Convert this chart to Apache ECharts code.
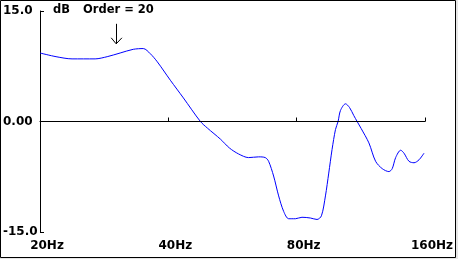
<!DOCTYPE html>
<html>
<head>
<meta charset="utf-8">
<script src="https://cdn.jsdelivr.net/npm/echarts@6/dist/echarts.min.js"></script>
<style>
html,body{margin:0;padding:0;background:#e6e6e6;}
#c{width:458px;height:259px;}
</style>
</head>
<body>
<div id="c"></div>
<script>
// Frequencies (Hz) and response (dB)
var freqs = [20.00, 21.81, 23.78, 26.94, 28.75, 30.84, 33.10, 34.94, 36.29, 37.69,
  40.44, 43.39, 47.57, 49.41, 53.01, 55.65, 58.43, 61.69, 65.13, 67.53,
  68.75, 70.63, 72.58, 74.57, 76.62, 79.44, 82.33, 86.16, 89.30, 91.45,
  93.45, 95.14, 96.85, 98.65, 100.05, 101.36, 104.15, 106.43, 108.93, 110.90,
  113.33, 118.16, 122.52, 126.99, 131.67, 134.04, 136.54, 140.29, 142.82, 146.74,
  150.78, 154.91, 159.14];
var gainDb = [9.3, 8.8, 8.5, 8.5, 8.8, 9.3, 9.8, 9.9, 9.2, 8.1,
  5.6, 3.2, 0.0, -0.9, -2.4, -3.6, -4.4, -4.9, -4.8, -4.9,
  -5.4, -7.4, -10.1, -12.2, -13.2, -13.2, -13.0, -13.1, -13.3, -12.8,
  -10.1, -7.0, -3.8, -1.1, 0.0, 1.5, 2.4, 1.9, 0.8, 0.0,
  -0.95, -2.9, -5.4, -6.4, -6.8, -6.4, -4.9, -3.9, -4.3, -5.4,
  -5.6, -5.2, -4.3];
var xTicks = [20, 40, 80, 160];
var yTicks = [-15, 0, 15];
var yTickLabels = ['-15.0', '0.00', '15.0'];
var titleUnit = 'dB';
var titleOrder = 'Order = 20';
// Arrow annotation (Hz, dB)
var arrowFreq = 30.18;
var arrowTopDb = 13.26;
var arrowTipDb = 10.54;
var arrowHeadDb = 11.36;
var arrowHeadLeftFreq = 29.38;
var arrowHeadRightFreq = 31.13;

var FONT = 'DejaVu Sans';
var chart = echarts.init(document.getElementById('c'), null, {renderer: 'canvas'});
var seriesData = freqs.map(function (f, i) { return [f, gainDb[i]]; });

chart.setOption({
  animation: false,
  backgroundColor: 'transparent',
  graphic: [
    {type: 'rect', z: -10, shape: {x: 0.5, y: 0.5, width: 455, height: 257},
     style: {fill: '#ffffff', stroke: '#000000', lineWidth: 1}},
    {type: 'text', x: 53, y: 10.5, style: {text: titleUnit, font: 'bold 11.5px "' + FONT + '"', fill: '#000', verticalAlign: 'middle'}},
    {type: 'text', x: 83, y: 10.5, style: {text: titleOrder, font: 'bold 11.5px "' + FONT + '"', fill: '#000', verticalAlign: 'middle'}}
  ],
  grid: {left: 40, right: 33, top: 11, bottom: 27, containLabel: false},
  xAxis: {
    type: 'log', logBase: 2, min: 20, max: 160,
    axisLine: {show: true, lineStyle: {color: '#000', width: 1}},
    axisTick: {show: true, inside: true, length: 4, customValues: xTicks, lineStyle: {color: '#000'}},
    axisLabel: {show: true, customValues: xTicks, margin: 8, color: '#000',
      fontFamily: FONT, fontWeight: 'bold', fontSize: 12, padding: [0, 0, 0, 14],
      formatter: function (v) { return Math.round(v) + 'Hz'; }},
    splitLine: {show: false}, minorTick: {show: false}
  },
  yAxis: {
    type: 'value', min: -15, max: 15, interval: 15,
    axisLine: {show: true, lineStyle: {color: '#000', width: 1}},
    axisTick: {show: true, inside: true, length: 4, lineStyle: {color: '#000'}},
    axisLabel: {show: true, margin: 37, align: 'left', color: '#000',
      fontFamily: FONT, fontWeight: 'bold', fontSize: 12,
      formatter: function (v) { var i = yTicks.indexOf(v); return i >= 0 ? yTickLabels[i] : ''; }},
    splitLine: {show: false}
  },
  series: [
    {
      type: 'line', data: seriesData, smooth: 0.3, symbol: 'none',
      lineStyle: {color: '#0000ff', width: 1}, silent: true, z: 3
    },
    {
      type: 'line', data: [], silent: true, z: 2,
      markLine: {
        silent: true, symbol: ['none', 'none'], animation: false,
        label: {show: false},
        lineStyle: {color: '#000', width: 1, type: 'solid'},
        data: [
          {yAxis: 0},
          [{coord: [arrowFreq, arrowTopDb]}, {coord: [arrowFreq, arrowTipDb]}],
          [{coord: [arrowHeadLeftFreq, arrowHeadDb]}, {coord: [arrowFreq, arrowTipDb]}],
          [{coord: [arrowHeadRightFreq, arrowHeadDb]}, {coord: [arrowFreq, arrowTipDb]}]
        ]
      }
    }
  ]
});
</script>
</body>
</html>
